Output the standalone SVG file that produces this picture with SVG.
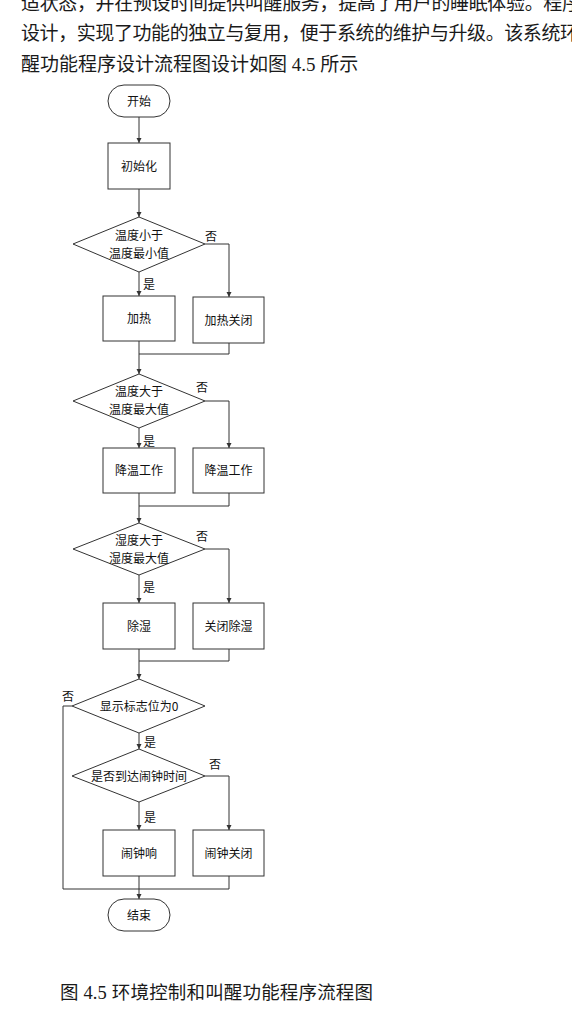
<svg xmlns="http://www.w3.org/2000/svg" width="572" height="1024" viewBox="0 0 572 1024">
<style>
.body{font-family:"Liberation Serif","Noto Sans CJK SC",serif;font-size:19px;fill:#1a1a1a}
.cap{font-family:"Liberation Serif","Noto Sans CJK SC",serif;font-size:18.5px;fill:#1a1a1a}
.shape{fill:#fff;stroke:#333;stroke-width:1}
.t{font-family:"Noto Sans CJK SC",sans-serif;font-size:12px;fill:#111;text-anchor:middle}
.lbl{font-family:"Noto Sans CJK SC",sans-serif;font-size:12px;fill:#111}
.conn path{fill:none;stroke:#333;stroke-width:1}
</style>
<defs>
<marker id="arr" markerUnits="userSpaceOnUse" markerWidth="6" markerHeight="6" refX="5" refY="3" orient="auto">
<path d="M0,0.5 L5,3 L0,5.5 Z" fill="#333"/>
</marker>
</defs>
<rect width="572" height="1024" fill="#fff"/>
<text class="body" x="21" y="10" textLength="560" lengthAdjust="spacing">适状态，并在预设时间提供叫醒服务，提高了用户的睡眠体验。程序</text>
<text class="body" x="21" y="40" textLength="558" lengthAdjust="spacing">设计，实现了功能的独立与复用，便于系统的维护与升级。该系统环</text>
<text class="body" x="21" y="70.5">醒功能程序设计流程图设计如图 4.5 所示</text>

<g class="conn">
<path d="M139 117 V143" marker-end="url(#arr)"/>
<path d="M139 189 V217" marker-end="url(#arr)"/>
<path d="M139 272 V296" marker-end="url(#arr)"/>
<path d="M205 244 H229 V297" marker-end="url(#arr)"/>
<path d="M139 341 V374" marker-end="url(#arr)"/>
<path d="M229 343 V354 H139"/>
<path d="M139 428 V448" marker-end="url(#arr)"/>
<path d="M205 401 H229 V448" marker-end="url(#arr)"/>
<path d="M139 493 V523" marker-end="url(#arr)"/>
<path d="M229 493 V506 H139"/>
<path d="M139 575 V603" marker-end="url(#arr)"/>
<path d="M205 549 H229 V603" marker-end="url(#arr)"/>
<path d="M139 649 V679" marker-end="url(#arr)"/>
<path d="M229 649 V661 H139"/>
<path d="M139 733 V749" marker-end="url(#arr)"/>
<path d="M72 706 H63 V889"/>
<path d="M139 802 V830" marker-end="url(#arr)"/>
<path d="M205 776 H229 V830" marker-end="url(#arr)"/>
<path d="M139 876 V899" marker-end="url(#arr)"/>
<path d="M229 876 V889 H63"/>
</g>

<g id="start"><rect class="shape" x="108" y="85" width="62" height="32" rx="16"/><text class="t" x="139" y="105.5">开始</text></g>
<g id="init"><rect class="shape" x="108" y="143" width="62" height="46"/><text class="t" x="139" y="170.5">初始化</text></g>
<g id="d1"><polygon class="shape" points="139,217 205,244 139,272 73,244"/><text class="t" x="139" y="239.5">温度小于</text><text class="t" x="139" y="257.5">温度最小值</text></g>
<g id="heat"><rect class="shape" x="103" y="296" width="72" height="45"/><text class="t" x="139" y="323">加热</text></g>
<g id="heatoff"><rect class="shape" x="193" y="297" width="71" height="46"/><text class="t" x="228.5" y="324.5">加热关闭</text></g>
<g id="d2"><polygon class="shape" points="139,374 205,401 139,428 73,401"/><text class="t" x="139" y="396">温度大于</text><text class="t" x="139" y="414">温度最大值</text></g>
<g id="cool1"><rect class="shape" x="103" y="448" width="72" height="45"/><text class="t" x="139" y="475">降温工作</text></g>
<g id="cool2"><rect class="shape" x="193" y="448" width="71" height="45"/><text class="t" x="228.5" y="475">降温工作</text></g>
<g id="d3"><polygon class="shape" points="139,523 205,549 139,575 73,549"/><text class="t" x="139" y="544.5">湿度大于</text><text class="t" x="139" y="562.5">湿度最大值</text></g>
<g id="dehum"><rect class="shape" x="103" y="603" width="72" height="46"/><text class="t" x="139" y="630.5">除湿</text></g>
<g id="dehumoff"><rect class="shape" x="193" y="603" width="71" height="46"/><text class="t" x="228.5" y="630.5">关闭除湿</text></g>
<g id="d4"><polygon class="shape" points="139,679 205,706 139,733 72,706"/><text class="t" x="139" y="710.5">显示标志位为0</text></g>
<g id="d5"><polygon class="shape" points="139,749 205,776 139,802 72,776"/><text class="t" x="139" y="780.5">是否到达闹钟时间</text></g>
<g id="ring"><rect class="shape" x="103" y="830" width="72" height="46"/><text class="t" x="139" y="857.5">闹钟响</text></g>
<g id="alarmoff"><rect class="shape" x="193" y="830" width="71" height="46"/><text class="t" x="228.5" y="857.5">闹钟关闭</text></g>
<g id="end"><rect class="shape" x="108" y="899" width="62" height="32" rx="16"/><text class="t" x="139" y="919.5">结束</text></g>

<g id="labels">
<text class="lbl" x="205" y="240.5">否</text>
<text class="lbl" x="143" y="288.5">是</text>
<text class="lbl" x="196" y="391.5">否</text>
<text class="lbl" x="143" y="445.5">是</text>
<text class="lbl" x="196" y="540.5">否</text>
<text class="lbl" x="143" y="591.5">是</text>
<text class="lbl" x="62" y="700.5">否</text>
<text class="lbl" x="144" y="746.5">是</text>
<text class="lbl" x="209" y="768.5">否</text>
<text class="lbl" x="144" y="821.5">是</text>
</g>

<text class="cap" x="60" y="999" textLength="313" lengthAdjust="spacing">图 4.5 环境控制和叫醒功能程序流程图</text>
</svg>
